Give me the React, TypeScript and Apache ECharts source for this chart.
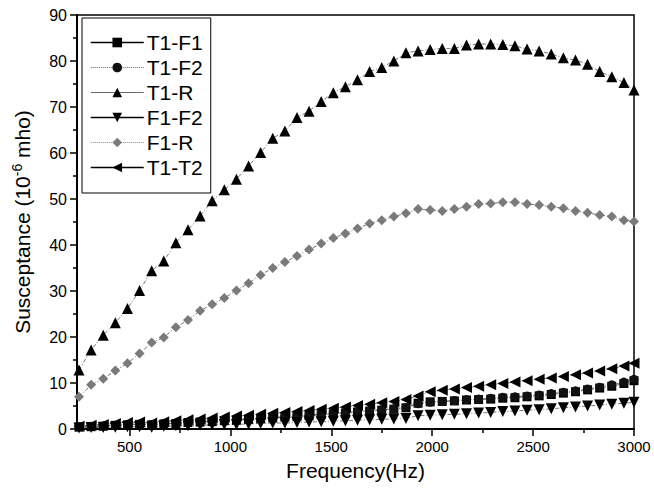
import React, { useEffect, useRef } from 'react';
import * as echarts from 'echarts';

const frequency = [250, 310, 370, 430, 490, 550, 610, 670, 730, 790, 850, 910, 970, 1030, 1090, 1150, 1210, 1270, 1330, 1390, 1450, 1510, 1570, 1630, 1690, 1750, 1810, 1870, 1930, 1990, 2050, 2110, 2170, 2230, 2290, 2350, 2410, 2470, 2530, 2590, 2650, 2710, 2770, 2830, 2890, 2950, 3000];

const t1f1 = [0.4, 0.5, 0.6, 0.8, 0.9, 1.0, 0.9, 1.1, 1.2, 1.4, 1.5, 1.6, 1.8, 1.9, 2.1, 2.2, 2.4, 2.6, 2.7, 2.9, 3.1, 3.3, 3.5, 3.7, 3.9, 4.1, 4.3, 4.6, 5.6, 5.9, 6.0, 6.1, 6.3, 6.4, 6.5, 6.7, 6.8, 7.0, 7.2, 7.5, 7.8, 8.1, 8.5, 8.9, 9.3, 9.9, 10.5];
const t1f2 = [0.5, 0.6, 0.7, 0.8, 1.0, 1.1, 1.0, 1.2, 1.3, 1.4, 1.6, 1.7, 1.9, 2.0, 2.2, 2.3, 2.5, 2.7, 2.8, 3.0, 3.2, 3.4, 3.6, 3.8, 4.0, 4.2, 4.4, 4.7, 5.5, 5.8, 6.0, 6.2, 6.4, 6.5, 6.7, 6.9, 7.0, 7.2, 7.4, 7.7, 8.0, 8.3, 8.7, 9.1, 9.6, 10.2, 10.8];
const t1r = [12.8, 17.2, 20.4, 23.1, 26.2, 30.1, 34.4, 36.5, 40.5, 43.3, 46.3, 49.6, 52.0, 54.3, 57.2, 60.1, 63.2, 64.8, 67.7, 69.1, 71.2, 73.1, 74.4, 75.9, 77.7, 78.6, 80.0, 81.8, 82.2, 82.5, 82.7, 82.7, 83.5, 83.7, 83.7, 83.6, 83.3, 82.6, 82.2, 81.5, 80.7, 80.2, 79.3, 77.7, 76.6, 75.3, 73.7];
const f1f2 = [0.2, 0.3, 0.3, 0.4, 0.5, 0.5, 0.4, 0.6, 0.7, 0.7, 0.8, 0.9, 1.0, 1.0, 1.1, 1.2, 1.3, 1.3, 1.4, 1.5, 1.6, 1.7, 1.8, 1.9, 2.0, 2.1, 2.2, 2.3, 2.9, 3.0, 3.1, 3.2, 3.3, 3.5, 3.6, 3.8, 3.9, 4.1, 4.2, 4.4, 4.6, 4.8, 5.0, 5.2, 5.4, 5.6, 5.8];
const f1r = [7.0, 9.6, 10.9, 12.7, 14.3, 16.4, 18.8, 19.9, 22.1, 23.7, 25.7, 27.1, 28.5, 30.1, 31.7, 33.5, 35.0, 36.3, 37.6, 39.0, 40.3, 41.5, 42.5, 43.6, 44.7, 45.4, 46.2, 46.9, 47.8, 47.6, 47.4, 47.8, 48.3, 48.9, 49.0, 49.3, 49.3, 48.9, 48.7, 48.3, 48.0, 47.4, 47.0, 46.5, 46.2, 45.4, 45.1];
const t1t2 = [0.6, 0.8, 1.0, 1.2, 1.4, 1.5, 1.3, 1.6, 1.8, 2.0, 2.2, 2.4, 2.6, 2.8, 3.0, 3.2, 3.4, 3.6, 3.8, 4.0, 4.3, 4.5, 4.8, 5.1, 5.4, 5.7, 6.0, 6.4, 7.2, 8.1, 8.4, 8.7, 9.0, 9.3, 9.6, 9.9, 10.2, 10.5, 10.8, 11.1, 11.4, 11.8, 12.2, 12.6, 13.1, 13.7, 14.3];

const xMajorTicks = [500, 1000, 1500, 2000, 2500, 3000];
const xMinorTicks = [750, 1250, 1750, 2250, 2750];

const FONT = 'Arial, "Liberation Sans", sans-serif';

export default function App() {
  const ref = useRef<HTMLDivElement>(null);
  useEffect(() => {
    const chart = echarts.init(ref.current!, null, { renderer: 'svg' });
    const pts = (vals: number[]) => frequency.map((f, i) => [f, vals[i]]);
    const seriesLine = { color: '#555', width: 0.8, type: [4, 2, 1, 2] as any };
    const mk = (name: string, vals: number[], symbol: string, size: number, color: string, rotate = 0) => ({
      name,
      type: 'line',
      data: pts(vals),
      symbol,
      symbolSize: size,
      symbolRotate: rotate,
      showSymbol: true,
      itemStyle: { color, borderWidth: 0 },
      lineStyle: seriesLine,
      clip: false,
      z: 3,
    });
    chart.setOption({
      animation: false,
      backgroundColor: '#fff',
      textStyle: { fontFamily: FONT },
      grid: { left: 77, right: 20, top: 15, bottom: 68, show: true, borderColor: '#000', borderWidth: 1.5 },
      legend: {
        orient: 'vertical',
        left: 82,
        top: 18,
        padding: [14, 8, 15, 8],
        borderColor: '#000',
        borderWidth: 1,
        backgroundColor: '#fff',
        itemWidth: 53,
        itemHeight: 12,
        itemGap: 4,
        textStyle: { fontSize: 21, color: '#000', fontFamily: FONT, lineHeight: 20, padding: [0, 0, 0, -2] },
        data: [
          { name: 'T1-F1', lineStyle: { color: '#000', width: 1.5, type: 'solid' } },
          { name: 'T1-F2', lineStyle: { color: '#666', width: 1, type: 'dotted' } },
          { name: 'T1-R', lineStyle: { color: '#444', width: 0.8, type: 'solid' } },
          { name: 'F1-F2', lineStyle: { color: '#000', width: 1.5, type: 'solid' } },
          { name: 'F1-R', lineStyle: { color: '#888', width: 1, type: 'dotted' } },
          { name: 'T1-T2', lineStyle: { color: '#000', width: 1.5, type: 'solid' } },
        ],
      },
      xAxis: [
        {
          type: 'value',
          min: 240,
          max: 3000,
          name: 'Frequency(Hz)',
          nameLocation: 'middle',
          nameGap: 31,
          nameTextStyle: { fontSize: 21, color: '#000', fontFamily: FONT },
          axisLine: { show: true, lineStyle: { color: '#000', width: 2 } },
          axisTick: { show: true, length: 7, customValues: xMajorTicks, lineStyle: { color: '#000', width: 1.5 } },
          axisLabel: {
            customValues: xMajorTicks,
            fontSize: 15,
            color: '#000',
            margin: 10,
            fontFamily: FONT,
            formatter: (v: number) => String(v),
          },
          splitLine: { show: false },
        },
        {
          type: 'value',
          min: 240,
          max: 3000,
          position: 'bottom',
          axisLine: { show: false },
          axisTick: { show: true, length: 4, customValues: xMinorTicks, lineStyle: { color: '#000', width: 1.5 } },
          axisLabel: { show: false },
          splitLine: { show: false },
        },
      ],
      yAxis: {
        type: 'value',
        min: 0,
        max: 90,
        interval: 10,
        name: 'Susceptance (10{sup|-6} mho)',
        nameLocation: 'middle',
        nameGap: 42,
        nameRotate: 90,
        nameTextStyle: {
          fontSize: 21,
          color: '#000',
          fontFamily: FONT,
          rich: { sup: { fontSize: 14, color: '#000', fontFamily: FONT, padding: [0, 0, 11, 0] } },
        },
        axisLine: { show: true, lineStyle: { color: '#000', width: 2 } },
        axisTick: { show: true, length: 7, lineStyle: { color: '#000', width: 1.5 } },
        minorTick: { show: true, splitNumber: 2, length: 4, lineStyle: { color: '#000', width: 1.5 } },
        axisLabel: { fontSize: 16, color: '#000', margin: 10, fontFamily: FONT },
        splitLine: { show: false },
      },
      series: [
        mk('T1-F1', t1f1, 'rect', 9, '#000'),
        mk('T1-F2', t1f2, 'circle', 9, '#111'),
        mk('T1-R', t1r, 'triangle', 11, '#000'),
        mk('F1-F2', f1f2, 'triangle', 11, '#000', 180),
        mk('F1-R', f1r, 'diamond', 10, '#7a7a7a'),
        mk('T1-T2', t1t2, 'triangle', 11, '#000', 90),
      ],
    });
    return () => chart.dispose();
  }, []);
  return <div ref={ref} style={{ position: 'fixed', left: 0, top: 0, width: 654, height: 497, background: '#fff' }} />;
}
